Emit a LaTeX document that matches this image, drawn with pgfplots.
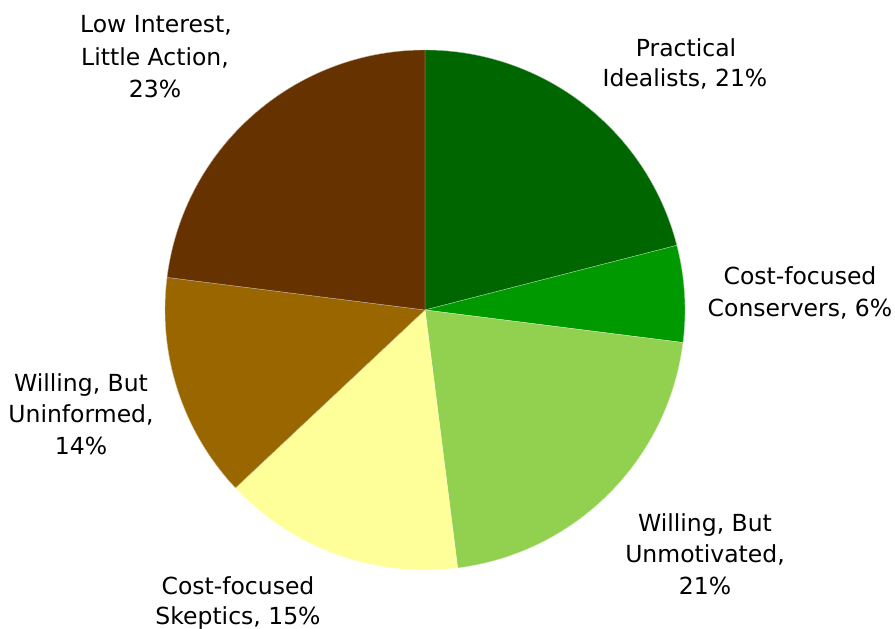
\documentclass[border=0pt]{standalone}
\usepackage{pgfplots}
\pgfplotsset{compat=1.18}
\usepackage{pgfplotstable}
\usepackage{fontspec}
\setmainfont{DejaVu Sans}
\definecolor{c1}{HTML}{006600}
\definecolor{c2}{HTML}{009900}
\definecolor{c3}{HTML}{92D050}
\definecolor{c4}{HTML}{FFFF99}
\definecolor{c5}{HTML}{996600}
\definecolor{c6}{HTML}{663300}
% start (cumulative %) and share (%) of each slice, clockwise from 12 o'clock
\pgfplotstableread{
start pct
0  21
21 6
27 21
48 15
63 14
77 23
}\piedata
\newcommand\slice[3]{%
  \fill[#3, draw=white!60!#3, line width=0.4pt] (axis cs:425,319) -- ++({90-3.6*#1}:260pt)
    arc[start angle={90-3.6*#1}, end angle={90-3.6*(#1+#2)}, radius=260pt] -- cycle;}
\newcommand\lab[3]{\node[anchor=base, inner sep=0pt, font=\fontsize{23.5}{28}\selectfont] at (axis cs:#1,#2) {#3};}
\begin{document}
\begin{tikzpicture}
\begin{axis}[hide axis, x=1pt, y=1pt, xmin=0, xmax=895, ymin=0, ymax=629,
  anchor=south west, at={(0,0)}, clip=false]
\pgfplotstablegetelem{0}{start}\of\piedata\let\sa\pgfplotsretval
\pgfplotstablegetelem{0}{pct}\of\piedata\let\pa\pgfplotsretval
\slice{\sa}{\pa}{c1}
\pgfplotstablegetelem{1}{start}\of\piedata\let\sb\pgfplotsretval
\pgfplotstablegetelem{1}{pct}\of\piedata\let\pb\pgfplotsretval
\slice{\sb}{\pb}{c2}
\pgfplotstablegetelem{2}{start}\of\piedata\let\sc\pgfplotsretval
\pgfplotstablegetelem{2}{pct}\of\piedata\let\pc\pgfplotsretval
\slice{\sc}{\pc}{c3}
\pgfplotstablegetelem{3}{start}\of\piedata\let\sd\pgfplotsretval
\pgfplotstablegetelem{3}{pct}\of\piedata\let\pd\pgfplotsretval
\slice{\sd}{\pd}{c4}
\pgfplotstablegetelem{4}{start}\of\piedata\let\se\pgfplotsretval
\pgfplotstablegetelem{4}{pct}\of\piedata\let\pe\pgfplotsretval
\slice{\se}{\pe}{c5}
\pgfplotstablegetelem{5}{start}\of\piedata\let\sf\pgfplotsretval
\pgfplotstablegetelem{5}{pct}\of\piedata\let\pf\pgfplotsretval
\slice{\sf}{\pf}{c6}
% labels (image y flipped: 629 - y)
\lab{686}{572}{Practical}
\lab{685}{542}{Idealists, 21\%}
\lab{800}{344}{Cost-focused}
\lab{800}{312}{Conservers, 6\%}
\lab{705}{97}{Willing, But}
\lab{705}{66}{Unmotivated,}
\lab{705}{34}{21\%}
\lab{238}{34}{Cost-focused}
\lab{238}{4}{Skeptics, 15\%}
\lab{81}{237}{Willing, But}
\lab{81}{206}{Uninformed,}
\lab{81}{174}{14\%}
\lab{156}{596}{Low Interest,}
\lab{155}{563}{Little Action,}
\lab{155}{531}{23\%}
\end{axis}
\pgfresetboundingbox
\useasboundingbox (0,0) rectangle (895pt,629pt);
\end{tikzpicture}
\end{document}
